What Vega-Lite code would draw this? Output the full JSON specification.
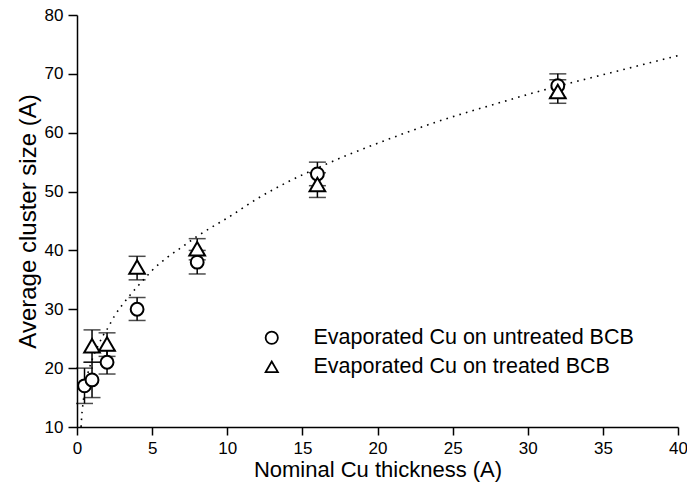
{
  "$schema": "https://vega.github.io/schema/vega-lite/v6.json",
  "width": 601,
  "height": 412,
  "autosize": "none",
  "padding": {"left": 77, "top": 15, "right": 9, "bottom": 69},
  "background": "white",
  "config": {
    "view": {"stroke": null},
    "font": "Liberation Sans",
    "axis": {
      "domainColor": "black",
      "domainWidth": 1.5,
      "tickColor": "black",
      "tickWidth": 1.5,
      "labelColor": "black",
      "titleColor": "black",
      "grid": false,
      "labelFont": "Liberation Sans",
      "titleFont": "Liberation Sans",
      "titleFontWeight": "normal",
      "labelFontSize": 17
    },
    "legend": {
      "orient": "none", "legendX": 184, "legendY": 312, "padding": 0,
      "labelFont": "Liberation Sans", "labelFontSize": 21.5, "labelColor": "black", "labelOffset": 31,
      "rowPadding": 6, "symbolSize": 150, "symbolFillColor": "white",
      "symbolStrokeWidth": 1.8, "symbolOpacity": 1, "labelLimit": 400
    }
  },
  "datasets": {
    "pts": [
      {"x": 0.5, "y": 17, "lo": 14, "hi": 20, "series": "Evaporated Cu on untreated BCB"},
      {"x": 1, "y": 18, "lo": 15, "hi": 21, "series": "Evaporated Cu on untreated BCB"},
      {"x": 2, "y": 21, "lo": 19, "hi": 23, "series": "Evaporated Cu on untreated BCB"},
      {"x": 4, "y": 30, "lo": 28.1, "hi": 32, "series": "Evaporated Cu on untreated BCB"},
      {"x": 8, "y": 38, "lo": 36, "hi": 40, "series": "Evaporated Cu on untreated BCB"},
      {"x": 16, "y": 53, "lo": 51, "hi": 55, "series": "Evaporated Cu on untreated BCB"},
      {"x": 32, "y": 68, "lo": 66, "hi": 70, "series": "Evaporated Cu on untreated BCB"},
      {"x": 1, "y": 23.8, "lo": 21, "hi": 26.5, "series": "Evaporated Cu on treated BCB"},
      {"x": 2, "y": 24.1, "lo": 22, "hi": 26, "series": "Evaporated Cu on treated BCB"},
      {"x": 4, "y": 37.2, "lo": 35, "hi": 39, "series": "Evaporated Cu on treated BCB"},
      {"x": 8, "y": 40.3, "lo": 38.4, "hi": 42, "series": "Evaporated Cu on treated BCB"},
      {"x": 16, "y": 51.2, "lo": 49, "hi": 53.2, "series": "Evaporated Cu on treated BCB"},
      {"x": 32, "y": 67, "lo": 65, "hi": 69, "series": "Evaporated Cu on treated BCB"}
    ],
    "fit": [
      {"x": 0.27, "y": 10.0}, {"x": 0.30, "y": 11.3}, {"x": 0.34, "y": 12.6}, {"x": 0.40, "y": 14.0},
      {"x": 0.46, "y": 15.3}, {"x": 0.55, "y": 17.0}, {"x": 0.7, "y": 18.9}, {"x": 0.9, "y": 20.6},
      {"x": 1.1, "y": 22.1}, {"x": 1.4, "y": 23.8}, {"x": 1.75, "y": 25.6}, {"x": 2.0, "y": 26.6},
      {"x": 2.5, "y": 28.9}, {"x": 3.0, "y": 30.7}, {"x": 3.5, "y": 32.3}, {"x": 4.0, "y": 33.8},
      {"x": 4.6, "y": 35.5}, {"x": 5.0, "y": 36.6}, {"x": 6.0, "y": 38.8}, {"x": 7.0, "y": 40.6},
      {"x": 8.0, "y": 42.4}, {"x": 9.0, "y": 44.0}, {"x": 10, "y": 45.5}, {"x": 12, "y": 48.8},
      {"x": 14, "y": 51.6}, {"x": 16, "y": 54.0}, {"x": 18, "y": 56.2}, {"x": 20, "y": 58.2},
      {"x": 22, "y": 60.1}, {"x": 24, "y": 61.9}, {"x": 26, "y": 63.5}, {"x": 28, "y": 65.0},
      {"x": 30, "y": 66.5}, {"x": 32, "y": 67.9}, {"x": 34, "y": 69.2}, {"x": 36, "y": 70.5},
      {"x": 38, "y": 71.8}, {"x": 40, "y": 73.1}
    ]
  },
  "layer": [
    {
      "data": {"name": "fit"},
      "mark": {"type": "line", "stroke": "black", "strokeWidth": 1.6, "strokeDash": [1.6, 5.2], "interpolate": "monotone", "clip": true},
      "encoding": {
        "x": {"field": "x", "type": "quantitative", "scale": {"domain": [0, 40], "nice": false},
          "title": "Nominal Cu thickness (A)",
          "axis": {
            "values": [0, 2.5, 5, 7.5, 10, 12.5, 15, 17.5, 20, 22.5, 25, 27.5, 30, 32.5, 35, 37.5, 40],
            "labelExpr": "datum.value % 5 === 0 ? datum.label : ''",
            "tickSize": {"condition": {"test": "datum.value % 5 === 0", "value": 8}, "value": 5},
            "labelPadding": 5, "titleFontSize": 22, "titlePadding": 3, "labelFlush": false
          }},
        "y": {"field": "y", "type": "quantitative", "scale": {"domain": [10, 80], "nice": false},
          "title": "Average cluster size (A)",
          "axis": {
            "values": [10, 15, 20, 25, 30, 35, 40, 45, 50, 55, 60, 65, 70, 75, 80],
            "labelExpr": "datum.value % 10 === 0 ? datum.label : ''",
            "tickSize": {"condition": {"test": "datum.value % 10 === 0", "value": 9}, "value": 6},
            "labelPadding": 5, "titleFontSize": 24, "titlePadding": 4, "labelFlush": false
          }}
      }
    },
    {
      "data": {"name": "pts"},
      "mark": {"type": "errorbar", "ticks": {"size": 17, "thickness": 1.5, "color": "black"}, "rule": {"strokeWidth": 1.5, "color": "black"}},
      "encoding": {
        "x": {"field": "x", "type": "quantitative", "title": "Nominal Cu thickness (A)"},
        "y": {"field": "lo", "type": "quantitative", "title": "Average cluster size (A)"},
        "y2": {"field": "hi"}
      }
    },
    {
      "data": {"name": "pts"},
      "transform": [{"filter": "datum.series === 'Evaporated Cu on untreated BCB'"}],
      "mark": {"type": "point", "filled": false, "fill": "white", "fillOpacity": 1, "strokeWidth": 2, "opacity": 1, "size": 165},
      "encoding": {
        "x": {"field": "x", "type": "quantitative", "title": "Nominal Cu thickness (A)"},
        "y": {"field": "y", "type": "quantitative", "title": "Average cluster size (A)"},
        "shape": {"field": "series", "type": "nominal", "title": null,
          "scale": {"domain": ["Evaporated Cu on untreated BCB", "Evaporated Cu on treated BCB"], "range": ["circle", "triangle-up"]}},
        "stroke": {"field": "series", "type": "nominal", "title": null,
          "scale": {"domain": ["Evaporated Cu on untreated BCB", "Evaporated Cu on treated BCB"], "range": ["black", "black"]}}
      }
    },
    {
      "data": {"name": "pts"},
      "transform": [{"filter": "datum.series === 'Evaporated Cu on treated BCB'"}],
      "mark": {"type": "point", "filled": false, "fill": "white", "fillOpacity": 1, "strokeWidth": 2, "opacity": 1, "size": 245},
      "encoding": {
        "x": {"field": "x", "type": "quantitative", "title": "Nominal Cu thickness (A)"},
        "y": {"field": "y", "type": "quantitative", "title": "Average cluster size (A)"},
        "shape": {"field": "series", "type": "nominal", "title": null,
          "scale": {"domain": ["Evaporated Cu on untreated BCB", "Evaporated Cu on treated BCB"], "range": ["circle", "triangle-up"]}},
        "stroke": {"field": "series", "type": "nominal", "title": null,
          "scale": {"domain": ["Evaporated Cu on untreated BCB", "Evaporated Cu on treated BCB"], "range": ["black", "black"]}}
      }
    }
  ]
}
